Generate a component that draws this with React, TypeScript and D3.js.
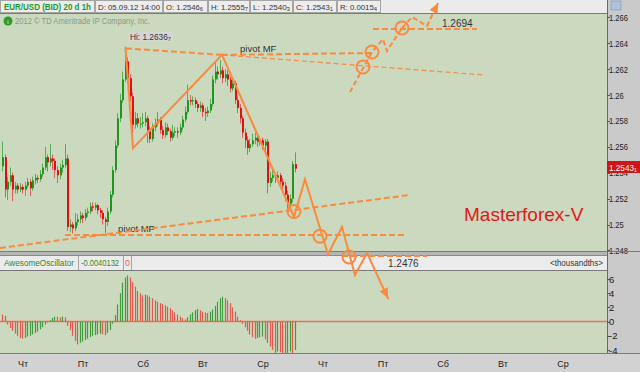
import React from "react";
import * as d3 from "d3";

const FONT = "'Liberation Sans', Arial, sans-serif";

// day labels along the time axis (bar index where each label sits)
const dayLabels = ["Чт", "Пт", "Сб", "Вт", "Ср", "Чт", "Пт", "Сб", "Вт", "Ср"];
const dayIndex = [8, 32, 56, 80, 104, 128, 152, 176, 200, 224];

const priceTicks = [1.248, 1.25, 1.252, 1.254, 1.256, 1.258, 1.26, 1.262, 1.264, 1.266];
const aoTicks = [6, 4, 2, 0, -2, -4];

// EUR/USD 1h candles
const opens = [
  1.2545, 1.2552, 1.2527, 1.2533, 1.2538, 1.2527, 1.253, 1.2527, 1.2529, 1.2527,
  1.253, 1.2533, 1.2528, 1.2534, 1.2536, 1.2535, 1.2539, 1.2544, 1.2552, 1.2548,
  1.2551, 1.2549, 1.2542, 1.2538, 1.2544, 1.2546, 1.2551, 1.2498, 1.25, 1.2497,
  1.2502, 1.2504, 1.2507, 1.2505, 1.2509, 1.251, 1.2514, 1.2513, 1.2515, 1.2511,
  1.2509, 1.2504, 1.2502, 1.251, 1.2523, 1.2542, 1.2561, 1.2582, 1.2596, 1.2612,
  1.2626, 1.2613, 1.2599, 1.2577, 1.2582, 1.2578, 1.2578, 1.2579, 1.2582, 1.2573,
  1.2566, 1.2575, 1.2578, 1.2581, 1.2573, 1.2569, 1.2575, 1.2572, 1.2567, 1.2571,
  1.2572, 1.2571, 1.2575, 1.2581, 1.2587, 1.2596, 1.2595, 1.2596, 1.2593, 1.259,
  1.2592, 1.2587, 1.2586, 1.2588, 1.2593, 1.2612, 1.2618, 1.2616, 1.2619, 1.2613,
  1.2616, 1.2612, 1.2605, 1.2609, 1.2596, 1.259, 1.2582, 1.2571, 1.2565, 1.2559,
  1.2562, 1.2565, 1.2567, 1.2564, 1.2565, 1.2561, 1.2564, 1.2532, 1.2536, 1.2538,
  1.2536, 1.2538, 1.2533, 1.253, 1.2523, 1.2516, 1.252, 1.25466,
];
const highs = [
  1.2564, 1.2554, 1.2537, 1.2544, 1.254, 1.2533, 1.2532, 1.2532, 1.2531, 1.2533,
  1.2536, 1.2535, 1.2537, 1.2539, 1.2538, 1.2542, 1.2547, 1.256, 1.2554, 1.2562,
  1.2554, 1.2551, 1.2545, 1.2547, 1.255, 1.2562, 1.2554, 1.2504, 1.2502, 1.2509,
  1.2508, 1.251, 1.2509, 1.2512, 1.2513, 1.2517, 1.2517, 1.2517, 1.2516, 1.2513,
  1.2511, 1.2506, 1.2513, 1.2526, 1.2545, 1.2565, 1.2586, 1.2601, 1.2618, 1.26367,
  1.2629, 1.2616, 1.2602, 1.2587, 1.2586, 1.2583, 1.2586, 1.2587, 1.2584, 1.2576,
  1.2578, 1.2582, 1.2587, 1.2583, 1.2576, 1.2579, 1.2578, 1.2574, 1.2577, 1.2575,
  1.2575, 1.2578, 1.2584, 1.2591, 1.2608, 1.26, 1.2599, 1.2598, 1.2595, 1.2595,
  1.2594, 1.259, 1.2591, 1.2597, 1.2615, 1.2625, 1.2622, 1.2627, 1.2622, 1.262,
  1.2619, 1.2614, 1.2612, 1.2611, 1.2599, 1.2593, 1.2584, 1.2574, 1.2568, 1.2566,
  1.257, 1.2571, 1.2569, 1.2568, 1.2567, 1.2566, 1.2566, 1.2541, 1.2542, 1.254,
  1.2541, 1.254, 1.2536, 1.2533, 1.2526, 1.2523, 1.2549, 1.25557,
];
const lows = [
  1.2541, 1.2521, 1.2519, 1.253, 1.2518, 1.2524, 1.2524, 1.2525, 1.2524, 1.2522,
  1.2528, 1.2522, 1.2526, 1.2531, 1.2532, 1.2533, 1.2537, 1.2542, 1.2541, 1.2545,
  1.2542, 1.2536, 1.2532, 1.2535, 1.254, 1.2544, 1.2495, 1.2494, 1.2493, 1.2495,
  1.2499, 1.2501, 1.2501, 1.2503, 1.2506, 1.2508, 1.251, 1.2511, 1.2508, 1.2505,
  1.25, 1.2493, 1.2499, 1.2508, 1.2521, 1.254, 1.2559, 1.2579, 1.2594, 1.261,
  1.2609, 1.2595, 1.2564, 1.2574, 1.2575, 1.2574, 1.2575, 1.2576, 1.2563, 1.2563,
  1.2564, 1.2572, 1.2576, 1.257, 1.2566, 1.2567, 1.2569, 1.2564, 1.2565, 1.2568,
  1.2567, 1.2569, 1.2573, 1.2579, 1.2585, 1.2592, 1.2592, 1.259, 1.2587, 1.2587,
  1.2583, 1.258, 1.2583, 1.2586, 1.2591, 1.2609, 1.2612, 1.2613, 1.2609, 1.261,
  1.2607, 1.2602, 1.2603, 1.2593, 1.2586, 1.2578, 1.2567, 1.2559, 1.2554, 1.2556,
  1.256, 1.2562, 1.256, 1.2561, 1.2558, 1.2557, 1.2524, 1.2529, 1.2533, 1.2532,
  1.2533, 1.2529, 1.2526, 1.2518, 1.2509, 1.2512, 1.2517, 1.25403,
];
const closes = [
  1.2552, 1.2527, 1.2533, 1.2538, 1.2527, 1.253, 1.2527, 1.2529, 1.2527, 1.253,
  1.2533, 1.2528, 1.2534, 1.2536, 1.2535, 1.2539, 1.2544, 1.2552, 1.2548, 1.2551,
  1.2549, 1.2542, 1.2538, 1.2544, 1.2546, 1.2551, 1.2498, 1.25, 1.2497, 1.2502,
  1.2504, 1.2507, 1.2505, 1.2509, 1.251, 1.2514, 1.2513, 1.2515, 1.2511, 1.2509,
  1.2504, 1.2502, 1.251, 1.2523, 1.2542, 1.2561, 1.2582, 1.2596, 1.2612, 1.2626,
  1.2613, 1.2599, 1.2577, 1.2582, 1.2578, 1.2578, 1.2579, 1.2582, 1.2573, 1.2566,
  1.2575, 1.2578, 1.2581, 1.2573, 1.2569, 1.2575, 1.2572, 1.2567, 1.2571, 1.2572,
  1.2571, 1.2575, 1.2581, 1.2587, 1.2596, 1.2595, 1.2596, 1.2593, 1.259, 1.2592,
  1.2587, 1.2586, 1.2588, 1.2593, 1.2612, 1.2618, 1.2616, 1.2619, 1.2613, 1.2616,
  1.2612, 1.2605, 1.2609, 1.2596, 1.259, 1.2582, 1.2571, 1.2565, 1.2559, 1.2562,
  1.2565, 1.2567, 1.2564, 1.2565, 1.2561, 1.2564, 1.2532, 1.2536, 1.2538, 1.2536,
  1.2538, 1.2533, 1.253, 1.2523, 1.2516, 1.252, 1.25466, 1.25431,
];

// Awesome Oscillator, thousandths
const ao = [
  1.0, 0.8, -0.4, -0.9, -1.3, -1.7, -2.0, -2.3, -2.4, -2.3,
  -2.1, -2.0, -1.8, -1.6, -1.4, -1.1, -0.8, -0.4, -0.1, 0.2,
  0.5, 0.7, 0.7, 0.6, 0.7, 0.6, -0.6, -1.2, -2.0, -2.7,
  -3.2, -3.0, -2.8, -2.6, -2.4, -2.2, -2.0, -1.9, -1.8, -1.7,
  -1.8, -1.9, -1.6, -1.2, -0.3, 0.9, 2.4, 4.0, 5.5, 6.2,
  6.5, 6.2, 5.6, 4.9, 4.3, 4.0, 3.7, 3.8, 3.7, 3.5,
  3.3, 3.0, 2.8, 2.6, 2.5, 2.3, 2.1, 1.9, 1.6, 1.3,
  1.0, 0.7, 0.5, 0.3, 0.6, 1.0, 1.3, 1.6, 1.8, 1.6,
  1.4, 1.3, 1.2, 1.4, 1.7, 2.2, 2.8, 3.3, 3.5, 3.3,
  3.0, 2.6, 2.0, 1.4, 0.7, 0.2, -0.3, -0.8, -1.3, -1.8,
  -2.2, -2.4, -2.3, -2.2, -2.1, -2.5, -3.0, -3.5, -4.0, -4.4,
  -4.2, -4.3, -4.5, -4.5, -4.4, -4.2, -4.6, -4.0,
];

// hand-drawn analysis, as [bar index, price]
const wavePath = [
  [49, 1.26367], [52, 1.2559], [87.6, 1.2631], [116.4, 1.2506], [120.8, 1.2535],
  [130, 1.2477], [135.6, 1.2498], [140.8, 1.2461], [145.6, 1.2478], [154, 1.2443],
];
const upPathA = [[138.8, 1.26023], [147.6, 1.26332], [152, 1.26432], [153.6, 1.2634], [159.6, 1.26517]];
const upPathB = [[159.6, 1.26517], [163.6, 1.26602], [169.6, 1.26533], [174, 1.2671]];
const thickDashed = [
  [[49.2, 1.2636], [87.6, 1.2631]],
  [[87.6, 1.2631], [147.6, 1.26324]],
  [[148, 1.26509], [189.6, 1.26509]],
  [[24.8, 1.24919], [160.8, 1.24919]],
  [[-1.2, 1.24819], [162.8, 1.25228]],
  [[135.6, 1.24757], [169.6, 1.24757]],
];
const thinDashed = [[[87.6, 1.2631], [192.8, 1.26154]]];
const rings = [
  [116.4, 1.251], [126.8, 1.2491], [138.4, 1.2475],
  [144, 1.26216], [147.6, 1.26332], [159.6, 1.26517],
];

const ORANGE = "#f98a40";
const BG = "#cbd9bf";
const UP = "#1f961f";
const DOWN = "#e01010";

// condensed label squeezed to a width, with an optional small trailing digit
function Quote({ x, y, main, sub, w, size = 8.8, fill = "#333" }:
  { x: number; y: number; main: string; sub?: string; w: number; size?: number; fill?: string }) {
  return (
    <text x={x} y={y} fontSize={size} fill={fill} textLength={w} lengthAdjust="spacingAndGlyphs">
      {main}
      {sub && <tspan fontSize={6} dy={1}>{sub}</tspan>}
    </text>
  );
}

// width for condensed numeric tick text
const numW = (s: string) => s.split("").reduce((a, ch) => a + (ch === "." ? 1.8 : ch === "-" ? 3 : 4.3), 0);

export default function App() {
  const x = d3.scaleLinear().domain([0, 240]).range([3, 603]);
  const y = d3.scaleLinear().domain([1.248, 1.266]).range([250.4, 17.3]);
  const ya = d3.scaleLinear().domain([-4, 6]).range([350, 279]);
  const line = d3.line<number[]>().x(d => x(d[0])).y(d => y(d[1]));

  const arrow = (pts: number[][], len = 10, half = 4.5) => {
    const a = pts[pts.length - 2], b = pts[pts.length - 1];
    const x1 = x(a[0]), y1 = y(a[1]), x2 = x(b[0]), y2 = y(b[1]);
    const ang = Math.atan2(y2 - y1, x2 - x1);
    const bx = x2 - len * Math.cos(ang), by = y2 - len * Math.sin(ang);
    const px = -Math.sin(ang) * half, py = Math.cos(ang) * half;
    return `${x2},${y2} ${bx + px},${by + py} ${bx - px},${by - py}`;
  };

  const headerCells = [
    { x0: 0, x1: 95 },
    { x0: 95, x1: 163 },
    { x0: 163, x1: 208 },
    { x0: 208, x1: 250 },
    { x0: 250, x1: 293 },
    { x0: 293, x1: 337 },
    { x0: 337, x1: 381 },
  ];
  const quotes = [
    ["O: 1.2546", "6"], ["H: 1.2555", "7"], ["L: 1.2540", "3"],
    ["C: 1.2543", "1"], ["R: 0.0015", "4"],
  ];

  return (
    <svg width={640} height={372} style={{ position: "absolute", left: 0, top: 0 }}
      fontFamily={FONT}>
      <defs>
        <clipPath id="mainClip"><rect x={0} y={13} width={607} height={238} /></clipPath>
        <clipPath id="aoClip"><rect x={0} y={271} width={607} height={82} /></clipPath>
      </defs>

      {/* panels */}
      <rect x={0} y={0} width={640} height={372} fill="#cacaca" />
      <rect x={0} y={13} width={607} height={238} fill={BG} />
      <rect x={0} y={271} width={607} height={82} fill={BG} />
      <rect x={0} y={353} width={640} height={19} fill="#d2d2d2" />
      <line x1={0} x2={640} y1={353.5} y2={353.5} stroke="#7a7a7a" />
      <line x1={607.5} x2={607.5} y1={0} y2={353} stroke="#6a6a6a" />

      {/* top quote bar */}
      <rect x={0} y={0} width={607} height={13} fill="#ebebeb" />
      {headerCells.map((c, i) => (
        <rect key={i} x={c.x0 + 0.5} y={0.5} width={c.x1 - c.x0 - 1} height={12}
          fill="#ededed" stroke="#a5a5a5" />
      ))}
      <line x1={0} x2={607} y1={13.5} y2={13.5} stroke="#7a7a7a" />
      <text x={4} y={10} fontSize={8.5} fontWeight="bold" fill="#1c9a2a"
        textLength={87} lengthAdjust="spacingAndGlyphs">EUR/USD (BID) 20 d 1h</text>
      <Quote x={98} y={10} main="D: 05.09.12 14:00" w={62} size={8} />
      {quotes.map((q, i) => (
        <Quote key={i} x={headerCells[i + 2].x0 + 3} y={10} main={q[0]} sub={q[1]} w={37} size={8} />
      ))}
      <rect x={611} y={1} width={10} height={9} fill="#a9c4dc" stroke="#7d97b0" strokeWidth={0.6} />

      {/* copyright */}
      <circle cx={8} cy={21} r={4.5} fill="#2e9a2e" />
      <text x={8} y={23.5} fontSize={6} fill="#fff" textAnchor="middle">i</text>
      <text x={15} y={24} fontSize={8.8} fill="#8a9a84" textLength={135}
        lengthAdjust="spacingAndGlyphs">2012 © TD Ameritrade IP Company, Inc.</text>

      {/* price axis */}
      {priceTicks.map(t => {
        const s = String(+t.toFixed(3));
        return (
          <g key={t}>
            <line x1={607} x2={610} y1={Math.round(y(t)) + 0.5} y2={Math.round(y(t)) + 0.5} stroke="#555" />
            <text x={609} y={y(t) + 3.5} fontSize={9.5} fill="#222" textLength={numW(s)}
              lengthAdjust="spacingAndGlyphs">{s}</text>
          </g>
        );
      })}
      <rect x={607} y={161} width={33} height={12} fill="#d21414" />
      <Quote x={609} y={170.5} main="1.2543" w={28} size={9} sub="1" fill="#fff" />

      {/* candles */}
      <g clipPath="url(#mainClip)">
        {closes.map((c, i) => {
          const o = opens[i];
          const up = c >= o;
          const cx = Math.round(x(i));
          const top = y(Math.max(o, c)), bot = y(Math.min(o, c));
          return (
            <g key={i}>
              <line x1={cx - 0.5} x2={cx - 0.5} y1={y(highs[i])} y2={y(lows[i])}
                stroke={up ? "#55b055" : "#e65a5a"} />
              <rect x={cx - 1} y={top} width={2} height={Math.max(1, bot - top)}
                fill={up ? UP : DOWN} />
            </g>
          );
        })}
      </g>

      <text x={118} y={232} fontSize={9.5} fill="#333">pivot MF</text>
      <text x={240} y={52} fontSize={9.5} fill="#333">pivot MF</text>
      <text x={464} y={221} fontSize={19} fill="#e01818">Masterforex-V</text>

      {/* Hi marker */}
      <rect x={128} y={31.5} width={45} height={10} rx={2} fill="#d6d6d6" />
      <Quote x={130} y={39.5} main="Hi: 1.2636" w={41} size={8.5} sub="7" />

      {/* separator and oscillator header */}
      <rect x={0} y={251} width={607} height={5} fill="#b5b5b5" />
      <line x1={0} x2={640} y1={251.5} y2={251.5} stroke="#7a7a7a" />
      <line x1={0} x2={607} y1={255.5} y2={255.5} stroke="#8a8a8a" />
      <rect x={0} y={256} width={607} height={15} fill="#ececec" />
      <line x1={0} x2={607} y1={270.5} y2={270.5} stroke="#7a7a7a" />
      {[78, 123, 131].map(v => (
        <line key={v} x1={v + 0.5} x2={v + 0.5} y1={256} y2={270} stroke="#a5a5a5" />
      ))}
      <Quote x={4} y={266} main="AwesomeOscillator" w={70} size={8.5} fill="#2a8a2a" />
      <Quote x={81} y={266} main="-0.0040132" w={38} size={8.5} fill="#2a8a2a" />
      <text x={125} y={266} fontSize={9} fill="#f05a5a">0</text>
      <text x={603} y={266} fontSize={9} fill="#333" textAnchor="end" textLength={53}
        lengthAdjust="spacingAndGlyphs">&lt;thousandths&gt;</text>

      {/* oscillator */}
      <line x1={0} x2={607} y1={ya(0)} y2={ya(0)} stroke="#f0705a" strokeWidth={1.5} />
      <g clipPath="url(#aoClip)">
        {ao.map((v, i) => {
          const cx = Math.round(x(i)) - 0.5;
          const up = i > 0 && v > ao[i - 1];
          return (
            <line key={i} x1={cx} x2={cx} y1={ya(0)} y2={ya(v)}
              stroke={up ? "#3c9e3c" : "#e2584a"} strokeWidth={1.2} />
          );
        })}
      </g>
      {aoTicks.map(t => (
        <g key={t}>
          <line x1={607} x2={610} y1={Math.round(ya(t)) + 0.5} y2={Math.round(ya(t)) + 0.5} stroke="#555" />
          <text x={609} y={ya(t) + 3.5} fontSize={9.5} fill="#222">{t}</text>
        </g>
      ))}

      {/* time axis */}
      {dayIndex.map((d, i) => (
        <text key={i} x={x(d)} y={367} fontSize={9} fill="#222" textAnchor="middle">
          {dayLabels[i]}
        </text>
      ))}

      {/* analysis drawing */}
      <g fill="none" stroke={ORANGE} strokeLinecap="round">
        {thickDashed.map((p, i) => (
          <path key={i} d={line(p) || ""} strokeWidth={2} strokeDasharray="6 3" strokeLinecap="butt" />
        ))}
        {thinDashed.map((p, i) => (
          <path key={i} d={line(p) || ""} strokeWidth={1.2} strokeDasharray="5 3" strokeLinecap="butt" />
        ))}
        <path d={line(upPathA) || ""} strokeWidth={2} strokeDasharray="5 3" strokeLinecap="butt" />
        <path d={line(upPathB) || ""} strokeWidth={2} strokeDasharray="5 3" strokeLinecap="butt" />
        <path d={line(wavePath) || ""} strokeWidth={2} strokeLinejoin="miter" />
        {rings.map((r, i) => (
          <circle key={i} cx={x(r[0])} cy={y(r[1])} r={6.5} strokeWidth={2} />
        ))}
      </g>
      <polygon points={arrow(wavePath)} fill={ORANGE} />
      <polygon points={arrow(upPathB)} fill={ORANGE} />
      <text x={442} y={27} fontSize={10} fill="#333">1.2694</text>
      <text x={388} y={267} fontSize={10} fill="#333">1.2476</text>
    </svg>
  );
}
